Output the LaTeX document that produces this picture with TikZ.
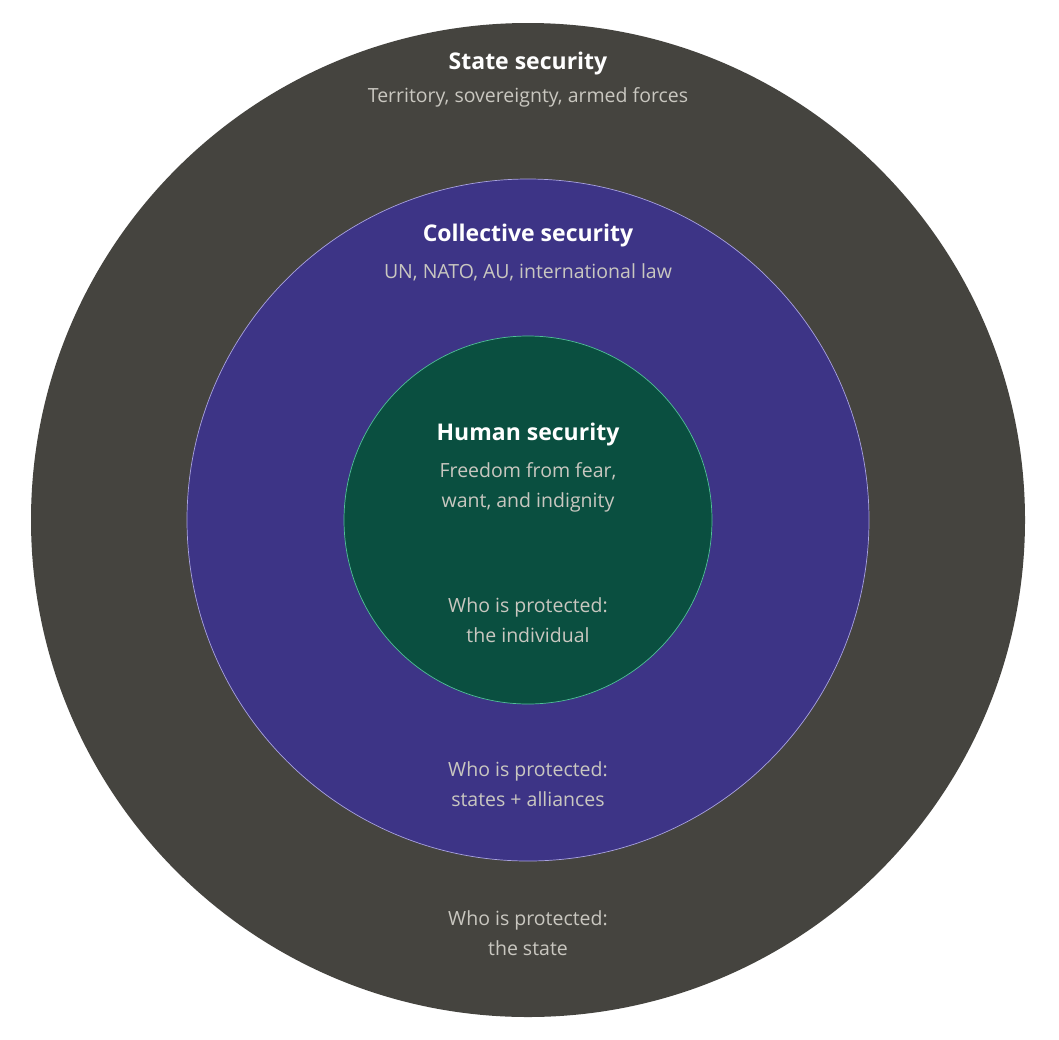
\documentclass[tikz,border=0pt]{standalone}
\usepackage{fontspec}
\setmainfont{Open Sans}
\begin{document}
\begin{tikzpicture}[x=1pt,y=-1pt,
  ttl/.style={font=\fontsize{23}{26}\selectfont\bfseries, text=white},
  sub/.style={font=\fontsize{19.5}{30}\selectfont, text=sub, align=center}]
\definecolor{outerc}{HTML}{45443F}
\definecolor{midc}{HTML}{3D3486}
\definecolor{innc}{HTML}{0A4F40}
\definecolor{sub}{HTML}{C9C7C0}
\definecolor{midl}{HTML}{A9A3E0}
\definecolor{innl}{HTML}{4FBF96}
\useasboundingbox (0,0) rectangle (1059,1039);
\fill[white] (0,0) rectangle (1059,1039);
\node[circle, fill=outerc, minimum size=994pt, inner sep=0] (outer) at (528,520) {};
\node[circle, fill=midc, draw=midl, line width=0.7pt, minimum size=682pt, inner sep=0] (mid) at (528,520) {};
\node[circle, fill=innc, draw=innl, line width=0.7pt, minimum size=368pt, inner sep=0] (inn) at (528,520) {};
\node[ttl] (t1) at (528,64) {State security};
\node[sub] (s1) at (528,97) {Territory, sovereignty, armed forces};
\node[ttl] (t2) at (528,236) {Collective security};
\node[sub] (s2) at (528,272) {UN, NATO, AU, international law};
\node[ttl] (t3) at (528,435) {Human security};
\node[sub] (s3) at (528,487) {Freedom from fear,\\want, and indignity};
\node[sub] (p3) at (528,620) {Who is protected:\\the individual};
\node[sub] (p2) at (528,784) {Who is protected:\\states + alliances};
\node[sub] (p1) at (528,933) {Who is protected:\\the state};
\end{tikzpicture}
\end{document}
